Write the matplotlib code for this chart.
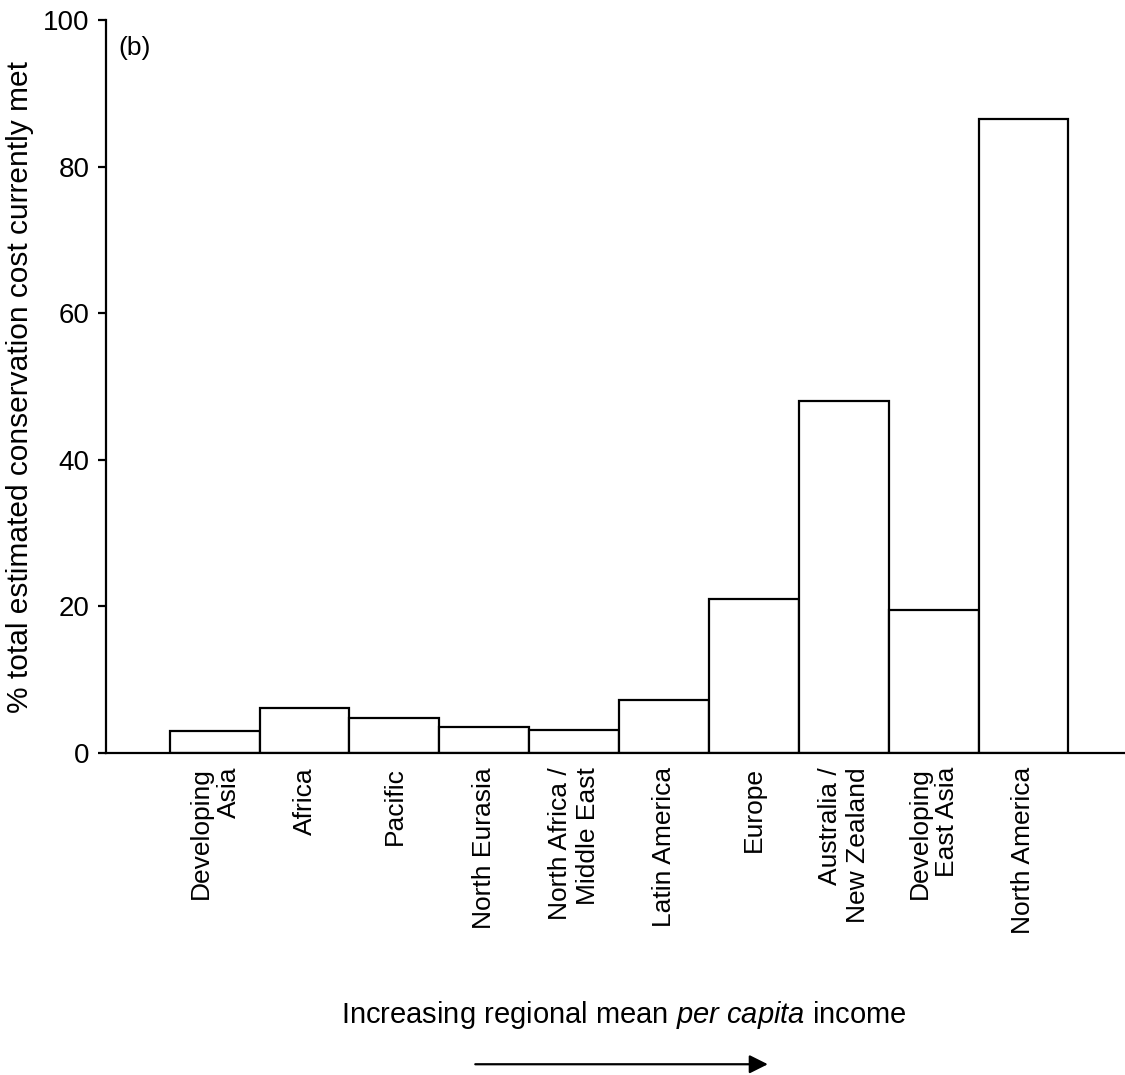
import numpy as np
import matplotlib
matplotlib.use('Agg')
from matplotlib import pyplot as plt

plt.rcParams['font.family'] = 'Liberation Sans'
plt.rcParams['mathtext.fontset'] = 'custom'
plt.rcParams['mathtext.it'] = 'Liberation Sans:italic'
plt.rcParams['mathtext.rm'] = 'Liberation Sans'

regions = ['Developing\nAsia', 'Africa', 'Pacific', 'North Eurasia',
           'North Africa /\nMiddle East', 'Latin America', 'Europe',
           'Australia /\nNew Zealand', 'Developing\nEast Asia', 'North America']
pct_met = [3.0, 6.1, 4.8, 3.5, 3.2, 7.2, 21.0, 48.0, 19.5, 86.5]
yticks = [0, 20, 40, 60, 80, 100]

fig = plt.figure(figsize=(11.25, 10.75), dpi=100)
ax = fig.add_axes([0.0942, 0.2995, 0.9058, 0.6819])

x = np.arange(len(regions))
ax.bar(x, pct_met, width=1.0, color='white', edgecolor='black', linewidth=1.6)

ax.set_xlim(-1.21, 10.13)
ax.set_ylim(0, 100)
ax.spines['top'].set_visible(False)
ax.spines['right'].set_visible(False)
for s in ['left', 'bottom']:
    ax.spines[s].set_linewidth(1.6)

ax.set_yticks(yticks)
ax.tick_params(axis='y', direction='out', length=6, width=1.6, labelsize=20, pad=6)
ax.set_xticks(x)
ax.set_xticklabels(regions, rotation=90, fontsize=19, va='top', ha='center',
                   multialignment='right', linespacing=1.2)
ax.tick_params(axis='x', length=0, pad=10)

ax.set_ylabel('% total estimated conservation cost currently met', fontsize=21.5, labelpad=6)
ax.text(0.012, 0.952, '(b)', transform=ax.transAxes, fontsize=19)

fig.text(0.555, 0.056, r'Increasing regional mean $\mathit{per\ capita}$ income',
         fontsize=21, ha='center', va='center')
fig.add_artist(matplotlib.patches.FancyArrowPatch((0.42, 0.010), (0.685, 0.010),
               transform=fig.transFigure, arrowstyle='-|>', mutation_scale=28,
               color='black', linewidth=1.6))

fig.savefig('out.png', dpi=100)
